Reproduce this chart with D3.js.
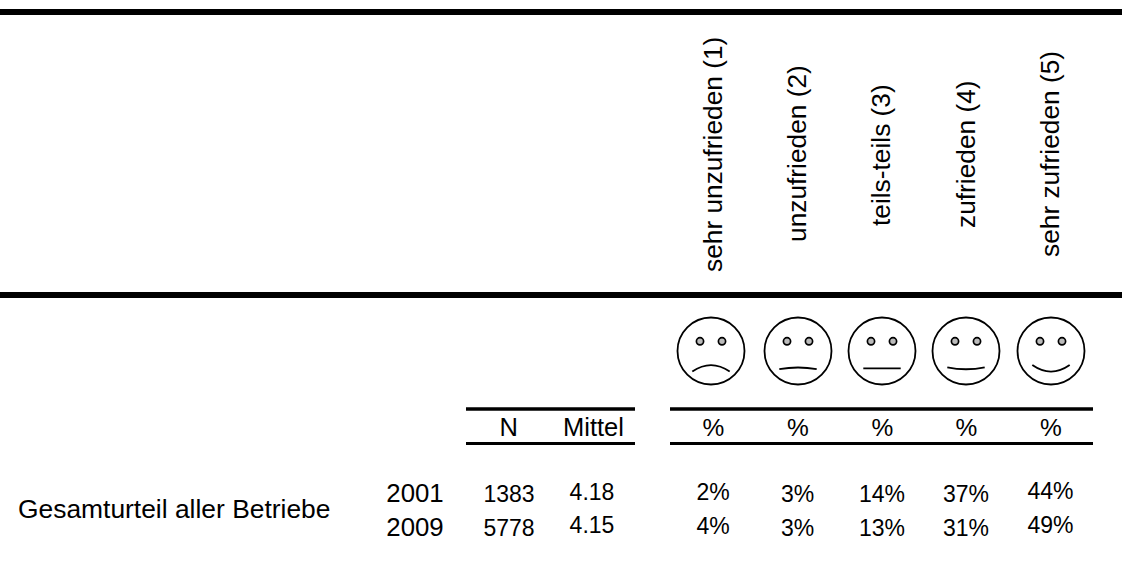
<!DOCTYPE html>
<html>
<head>
<meta charset="utf-8">
<script src="https://cdn.jsdelivr.net/npm/d3@7"></script>
<style>
  html, body { margin: 0; padding: 0; background: #fff; }
  text { font-family: "Liberation Sans", Arial, sans-serif; fill: #000; }
</style>
</head>
<body>
<div id="chart"></div>
<script>
var categories = ["sehr unzufrieden (1)", "unzufrieden (2)", "teils-teils (3)", "zufrieden (4)", "sehr zufrieden (5)"];
var columnHeads = ["%", "%", "%", "%", "%"];
var moods = [-1, -0.25, 0, 0.3, 1]; // mouth bend of each smiley
var rowLabel = "Gesamturteil aller Betriebe";
var years = ["2001", "2009"];
var nValues = [1383, 5778];
var meanValues = [4.18, 4.15];
var pct2001 = [2, 3, 14, 37, 44];
var pct2009 = [4, 3, 13, 31, 49];

var width = 1122, height = 572;

var svg = d3.select("#chart").append("svg")
    .attr("width", width)
    .attr("height", height)
    .style("display", "block");

var colX = d3.scaleOrdinal().domain(categories).range([713, 797.5, 882, 966, 1050.5]);
var faceX = d3.scaleOrdinal().domain(categories).range([711, 798, 882, 966, 1051]);
var rowY = d3.scaleOrdinal().domain(years).range([502, 535.5]);
// the single cells sit a bit off the row line in the source
var cellNudge = [-2, 0, 0, 0, -3];

function rule(x1, x2, y, w) {
    svg.append("line")
        .attr("x1", x1).attr("x2", x2)
        .attr("y1", y).attr("y2", y)
        .attr("stroke", "#000")
        .attr("stroke-width", w);
}

rule(0, width, 12, 6);
rule(0, width, 295, 6);
rule(466, 635, 409, 3.4);
rule(466, 635, 443.5, 3);
rule(670, 1093, 409, 3.4);
rule(670, 1093, 443.5, 3);

// rotated headers
var headBase = [722, 806, 890, 975, 1059];
var headBottom = [272, 242, 226, 228, 257];
svg.selectAll("text.head")
    .data(categories)
    .enter()
    .append("text")
    .attr("class", "head")
    .attr("transform", function(d, i) {
        return "translate(" + headBase[i] + "," + headBottom[i] + ") rotate(-90)";
    })
    .style("font-size", "26.3px")
    .text(function(d) { return d; });

// smileys
var faces = svg.selectAll("g.face")
    .data(categories)
    .enter()
    .append("g")
    .attr("class", "face")
    .attr("transform", function(d) { return "translate(" + faceX(d) + ",351)"; });

faces.append("circle")
    .attr("r", 33.5)
    .attr("fill", "#fff")
    .attr("stroke", "#000")
    .attr("stroke-width", 1.8);

faces.selectAll("circle.eye")
    .data([-11, 11])
    .enter()
    .append("circle")
    .attr("class", "eye")
    .attr("cx", function(d) { return d; })
    .attr("cy", -9.7)
    .attr("r", 3.6)
    .attr("fill", "#bbb")
    .attr("stroke", "#000")
    .attr("stroke-width", 1.7);

faces.append("path")
    .attr("d", function(d, i) {
        var bend = moods[i] * 6.5;
        var p = d3.path();
        p.moveTo(-18.7, 17.3 - bend / 2);
        p.quadraticCurveTo(0, 17.3 + 1.5 * bend, 18.7, 17.3 - bend / 2);
        return p.toString();
    })
    .attr("fill", "none")
    .attr("stroke", "#000")
    .attr("stroke-width", 1.8);

// table heads
svg.append("text").attr("x", 508.7).attr("y", 436).attr("text-anchor", "middle").style("font-size", "25.5px").text("N");
svg.append("text").attr("x", 593.5).attr("y", 436).attr("text-anchor", "middle").style("font-size", "25.5px").text("Mittel");

svg.selectAll("text.pcthead")
    .data(columnHeads)
    .enter()
    .append("text")
    .attr("class", "pcthead")
    .attr("x", function(d, i) { return colX(categories[i]) + 0.5; })
    .attr("y", 436)
    .attr("text-anchor", "middle")
    .style("font-size", "24.5px")
    .text(function(d) { return d; });

// row
svg.append("text").attr("x", 18).attr("y", 517.5).style("font-size", "26.4px").text(rowLabel);

years.forEach(function(year, r) {
    var y = rowY(year);
    svg.append("text").attr("x", 415).attr("y", y).attr("text-anchor", "middle").style("font-size", "25.8px").text(year);
    svg.append("text").attr("x", 509).attr("y", y + 0.3).attr("text-anchor", "middle").style("font-size", "23px").text(nValues[r]);
    svg.append("text").attr("x", 592).attr("y", y - 2.5).attr("text-anchor", "middle").style("font-size", "23px").text(d3.format(".2f")(meanValues[r]));

    svg.selectAll("text.pct" + year)
        .data(r === 0 ? pct2001 : pct2009)
        .enter()
        .append("text")
        .attr("class", "pct" + year)
        .attr("x", function(d, i) { return colX(categories[i]); })
        .attr("y", function(d, i) { return y + cellNudge[i]; })
        .attr("text-anchor", "middle")
        .style("font-size", "23px")
        .text(function(d) { return d + "%"; });
});
</script>
</body>
</html>
